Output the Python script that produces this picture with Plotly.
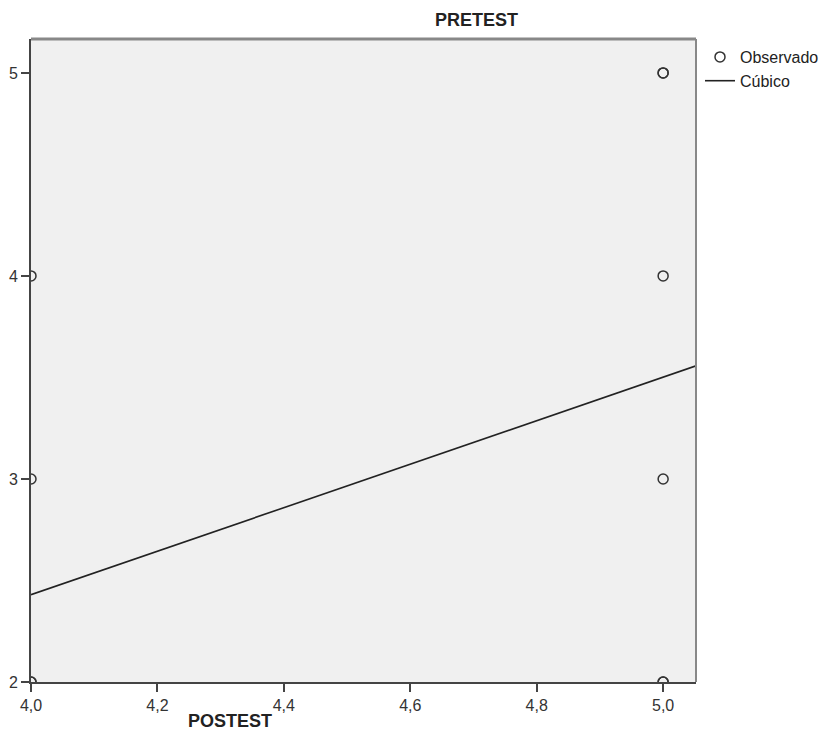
import plotly.graph_objects as go

# Observed data (POSTEST on x, PRETEST on y)
obs_x = [4.0, 4.0, 4.0, 4.0, 5.0, 5.0, 5.0, 5.0, 5.0, 5.0]
obs_y = [4.0, 3.0, 2.0, 2.0, 5.0, 5.0, 4.0, 3.0, 2.0, 2.0]

# Cubic fit curve (effectively linear because only two x levels)
fit_x = [4.0, 5.052]
fit_y = [2.43, 3.557]

x_ticks = [4.0, 4.2, 4.4, 4.6, 4.8, 5.0]
x_tick_labels = ["4,0", "4,2", "4,4", "4,6", "4,8", "5,0"]
y_ticks = [2, 3, 4, 5]
y_tick_labels = ["2", "3", "4", "5"]

FONT = "Liberation Sans, Arial, sans-serif"

# page body has an 8px margin; figure is sized/offset accordingly
OFF = 8
W, H = 829 - OFF, 754 - OFF
L, R, T, B = 31 - OFF, 829 - 696, 39 - OFF, 754 - 682

fig = go.Figure()
fig.add_trace(go.Scatter(
    x=obs_x, y=obs_y, mode="markers", name="Observado",
    marker=dict(symbol="circle-open", size=10, color="#333333", line=dict(width=1.5)),
))
fig.add_trace(go.Scatter(
    x=fit_x, y=fit_y, mode="lines", name="Cúbico",
    line=dict(color="#222222", width=1.6),
))

pw = W - L - R
ph = H - T - B

def px_x(px):
    return (px - 31) / pw

def px_y(py):
    return (682 - py) / ph

fig.update_layout(
    width=W, height=H,
    margin=dict(l=L, r=R, t=T, b=B, autoexpand=False),
    paper_bgcolor="white", plot_bgcolor="#f0f0f0",
    font=dict(family=FONT, size=16, color="#222222"),
    showlegend=True,
    legend=dict(x=px_x(700), y=px_y(40), xanchor="left", yanchor="top", xref="paper", yref="paper",
                bgcolor="rgba(0,0,0,0)", font=dict(size=16), itemwidth=30,
                tracegroupgap=0, borderwidth=0),
    annotations=[
        dict(text="<b>PRETEST</b>", x=px_x(476), y=px_y(20), xref="paper", yref="paper",
             xanchor="center", yanchor="middle", showarrow=False, font=dict(size=18)),
        dict(text="<b>POSTEST</b>", x=px_x(230), y=px_y(721), xref="paper", yref="paper",
             xanchor="center", yanchor="middle", showarrow=False, font=dict(size=18)),
    ],
)

fig.update_xaxes(range=[4.0, 5.052], tickvals=x_ticks, ticktext=x_tick_labels,
                 showgrid=False, zeroline=False, showline=True, linecolor="#444444", linewidth=2,
                 ticks="outside", ticklen=8, tickcolor="#444444", tickwidth=2, mirror=False,
                 automargin=False, tickfont=dict(size=16, color="#333333"))
fig.update_yaxes(range=[2.0, 5.167], tickvals=y_ticks, ticktext=y_tick_labels,
                 showgrid=False, zeroline=False, showline=True, linecolor="#444444", linewidth=2,
                 ticks="outside", ticklen=8, tickcolor="#444444", tickwidth=2,
                 automargin=False, ticklabelstandoff=0, tickfont=dict(size=16, color="#333333"))

# lighter top/right frame
fig.add_shape(type="line", xref="paper", yref="paper", x0=0, x1=1, y0=1, y1=1,
              line=dict(color="#888888", width=3))
fig.add_shape(type="line", xref="paper", yref="paper", x0=1, x1=1, y0=0, y1=1,
              line=dict(color="#888888", width=2))

fig.write_html("out.html")
